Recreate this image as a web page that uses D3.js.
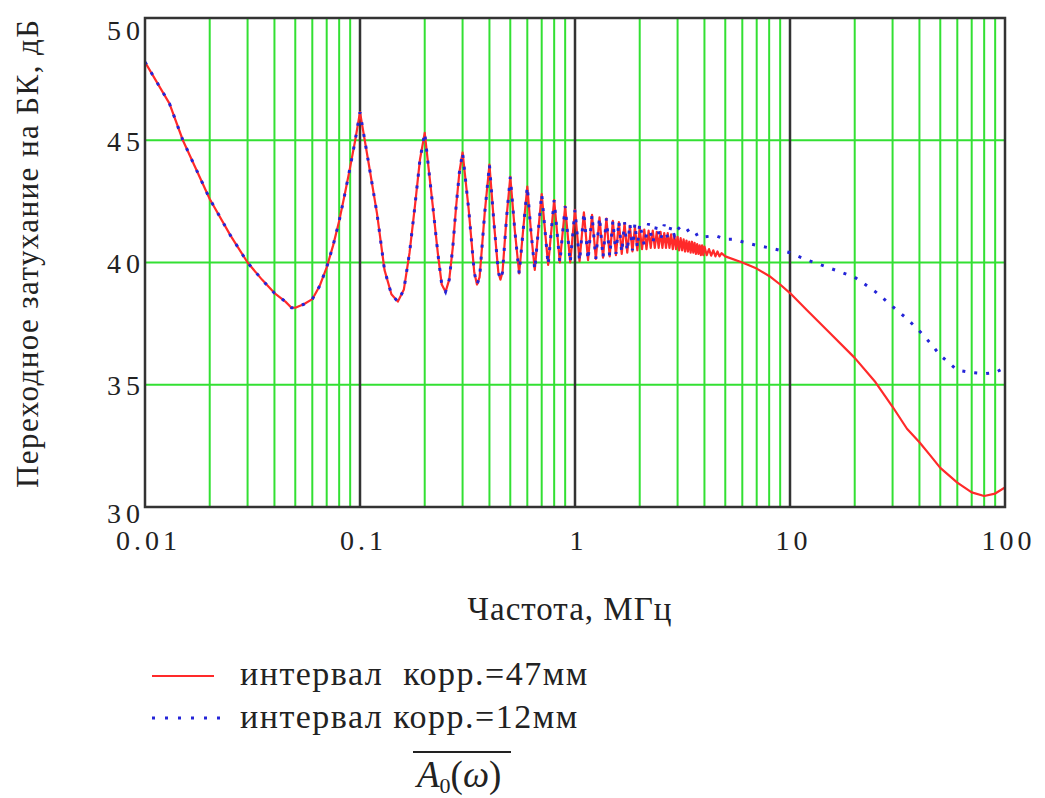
<!DOCTYPE html>
<html><head><meta charset="utf-8">
<script src="https://cdn.jsdelivr.net/npm/d3@7"></script>
<style>body{margin:0;background:#fff}svg{display:block}text{font-family:"Liberation Serif","Times New Roman",serif;fill:#222}</style>
</head><body><svg id="c" width="1045" height="798"></svg>
<script>
// ---- data (frequency in MHz, attenuation in dB) ----
const commonFreq = [0.01,0.013,0.015,0.02,0.025,0.03,0.035,0.04,0.045,0.048,0.05,0.055,0.06,0.065,0.07,0.075,0.08,0.085,0.09,0.095,
  0.1,0.11,0.12,0.13,0.14,0.15,0.16,0.17,0.18,0.19,0.2,
  0.21,0.22,0.23,0.24,0.25,0.26,0.27,0.28,0.29,0.3,
  0.32,0.34,0.35,0.36,0.38,0.4,
  0.42,0.44,0.45,0.46,0.48,0.5,
  0.525,0.55,0.575,0.6,0.625,0.65,0.675,0.7,0.75,0.8,
  0.85,0.9,0.95,1.0,1.05,1.1,1.15,1.2,1.25,1.3,1.35,1.4,1.45,1.5];
const commonVal = [48.2,46.5,45.0,42.6,41.1,40.0,39.3,38.75,38.4,38.15,38.15,38.3,38.5,39.05,39.8,40.7,41.7,42.8,43.9,45.0,
  46.15,44.0,42.0,39.7,38.7,38.4,38.9,40.4,42.3,44.2,45.3,
  43.6,42.0,40.4,39.1,38.8,39.3,40.6,42.3,43.7,44.5,
  42.2,39.6,39.1,39.4,42.0,44.0,
  41.6,39.6,39.3,39.6,41.8,43.5,
  41.3,39.55,41.4,43.1,41.2,39.7,41.3,42.8,39.9,42.55,
  40.0,42.3,40.0,42.15,40.05,42.05,40.1,41.95,40.15,41.85,40.2,41.8,40.25,41.7];
// red: correlation interval 47 mm
const redTailFreq = [1.55,1.6,1.65,1.7,1.75,1.8,1.85,1.9,1.95,2.0,
  2.05,2.1,2.15,2.2,2.25,2.3,2.35,2.4,2.45,2.5,2.55,2.6,2.65,2.7,2.75,2.8,2.85,2.9,2.95,3.0,
  3.05,3.1,3.15,3.2,3.25,3.3,3.35,3.4,3.45,3.5,3.55,3.6,3.65,3.7,3.75,3.8,3.85,3.9,3.95,4.0,
  4.1,4.2,4.3,4.4,4.5,4.6,4.7,4.8,5.0,
  6,7,8,9,10,12,15,20,25,30,35,40,45,50,60,70,80,90,100];
const redTailVal = [40.3,41.65,40.35,41.6,40.4,41.5,40.45,41.45,40.5,41.4,
  40.55,41.35,40.55,41.3,40.6,41.3,40.6,41.25,40.6,41.25,40.6,41.2,40.6,41.2,40.6,41.15,40.55,41.1,40.55,41.05,
  40.5,41.0,40.5,40.95,40.45,40.9,40.45,40.85,40.4,40.85,40.4,40.8,40.35,40.75,40.35,40.7,40.3,40.7,40.3,40.65,
  40.3,40.55,40.28,40.5,40.25,40.45,40.25,40.38,40.25,
  40.0,39.75,39.45,39.1,38.75,38.05,37.2,36.1,35.1,34.1,33.2,32.65,32.1,31.6,31.0,30.6,30.45,30.55,30.8];
// blue: correlation interval 12 mm
const blueTailFreq = [1.55,1.6,1.65,1.7,1.75,1.8,1.85,1.9,1.95,2.0,2.1,2.2,2.3,2.4,2.5,2.6,2.7,2.8,2.9,3.0,3.2,3.4,3.6,3.8,4.0,4.5,5,5.5,6,7,8,9,
  10,12,15,20,25,30,35,40,45,50,60,70,80,90,100];
const blueTailVal = [40.35,41.7,40.4,41.65,40.45,41.6,40.5,41.6,40.6,41.6,40.7,41.6,40.8,41.55,40.9,41.55,41.0,41.5,41.1,41.45,41.2,41.35,41.1,41.2,41.05,41.1,40.95,40.95,40.85,40.7,40.6,40.5,
  40.4,40.1,39.8,39.4,38.8,38.2,37.7,37.2,36.7,36.2,35.6,35.5,35.45,35.5,35.7];
const xTickVals = [0.01,0.1,1,10,100];
const xTickLabels = ["0.01","0.1","1","10","100"];
const yTickVals = [30,35,40,45,50];
const yTickLabels = ["30","35","40","45","50"];
const legendLabels = ["интервал  корр.=47мм","интервал корр.=12мм"];
const xTitle = "Частота, МГц";
const yTitle = "Переходное затухание на БК, дБ";

// ---- chart ----
const svg = d3.select("#c");
const L=145, R=1005, T=18, B=507;
const x = d3.scaleLog().domain([0.01,100]).range([L,R]);
const y = d3.scaleLinear().domain([30,50]).range([B,T]);
const green = "#33e033";

// minor vertical grid (2..9 in every decade)
const minor = [];
for (let d=0.01; d<100; d*=10) for (let k=2;k<=9;k++) minor.push(+(d*k).toPrecision(3));
svg.append("g").selectAll("line").data(minor).join("line")
  .attr("x1",d=>x(d)).attr("x2",d=>x(d)).attr("y1",T).attr("y2",B)
  .attr("stroke",green).attr("stroke-width",2);
// horizontal grid
svg.append("g").selectAll("line").data([35,40,45]).join("line")
  .attr("x1",L).attr("x2",R).attr("y1",d=>y(d)).attr("y2",d=>y(d))
  .attr("stroke",green).attr("stroke-width",2);
// decade lines
svg.append("g").selectAll("line").data([0.1,1,10]).join("line")
  .attr("x1",d=>x(d)).attr("x2",d=>x(d)).attr("y1",T).attr("y2",B)
  .attr("stroke","#333").attr("stroke-width",2.5);

const toPts = (f,v)=>f.map((d,i)=>[d,v[i]]);
const redData = toPts(commonFreq.concat(redTailFreq), commonVal.concat(redTailVal));
const blueData = toPts(commonFreq.concat(blueTailFreq), commonVal.concat(blueTailVal));
const line = d3.line().x(d=>x(d[0])).y(d=>y(d[1]));
svg.append("clipPath").attr("id","pc").append("rect").attr("x",L).attr("y",T).attr("width",R-L).attr("height",B-T);
const plot = svg.append("g").attr("clip-path","url(#pc)");
plot.append("path").datum(redData).attr("d",line).attr("fill","none")
  .attr("stroke","#ff2a2a").attr("stroke-width",2.2).attr("stroke-linejoin","round");
plot.append("path").datum(blueData).attr("d",line).attr("fill","none")
  .attr("stroke","#2424d8").attr("stroke-width",3).attr("stroke-dasharray","3,9");

// frame
svg.append("rect").attr("x",L).attr("y",T).attr("width",R-L).attr("height",B-T)
  .attr("fill","none").attr("stroke","#333").attr("stroke-width",2.5);

// axes labels (using d3 axes, domain/ticks hidden)
const xa = svg.append("g").attr("transform",`translate(0,${B})`)
  .call(d3.axisBottom(x).tickValues(xTickVals).tickFormat((d,i)=>xTickLabels[i]).tickSize(0).tickPadding(0));
xa.select(".domain").remove();
xa.selectAll("text").attr("font-size",28).attr("font-family","Liberation Serif").attr("fill","#222")
  .attr("y",43).attr("dy",null).attr("dx",3).attr("letter-spacing",4);
const ya = svg.append("g").attr("transform",`translate(${L},0)`)
  .call(d3.axisLeft(y).tickValues(yTickVals).tickFormat((d,i)=>yTickLabels[i]).tickSize(0).tickPadding(0));
ya.select(".domain").remove();
ya.selectAll("text").attr("font-size",28).attr("font-family","Liberation Serif").attr("fill","#222")
  .attr("letter-spacing",5).attr("x",0)
  .attr("dy",d=> d===50 ? "0.75em" : (d===30 ? "0.55em" : "0.35em"));

// titles
svg.append("text").attr("x",570).attr("y",620).attr("text-anchor","middle").attr("font-size",33)
  .attr("letter-spacing",1).text(xTitle);
svg.append("text").attr("transform","translate(38,254) rotate(-90)").attr("text-anchor","middle")
  .attr("font-size",31).attr("textLength",468).attr("lengthAdjust","spacing").text(yTitle);

// legend
const lg = svg.append("g");
lg.append("line").attr("x1",152).attr("x2",214).attr("y1",676).attr("y2",676).attr("stroke","#ff2a2a").attr("stroke-width",2.2);
lg.append("line").attr("x1",152).attr("x2",222).attr("y1",718).attr("y2",718).attr("stroke","#2424d8").attr("stroke-width",3).attr("stroke-dasharray","3,10");
lg.selectAll("text.lg").data(legendLabels).join("text").attr("class","lg")
  .attr("x",240).attr("y",(d,i)=>685+i*43).attr("font-size",34).attr("letter-spacing",1.5)
  .style("white-space","pre").text(d=>d);

// formula A0(ω) with overline
const f = svg.append("text").attr("x",417).attr("y",787).attr("font-size",37).attr("font-family","Liberation Serif");
f.append("tspan").attr("font-style","italic").text("A");
f.append("tspan").attr("font-size",22).attr("dy",6).text("0");
f.append("tspan").attr("dy",-6).text("(");
f.append("tspan").attr("font-style","italic").text("ω");
f.append("tspan").text(")");
svg.append("line").attr("x1",413).attr("x2",511).attr("y1",752).attr("y2",752).attr("stroke","#222").attr("stroke-width",2);
</script></body></html>
